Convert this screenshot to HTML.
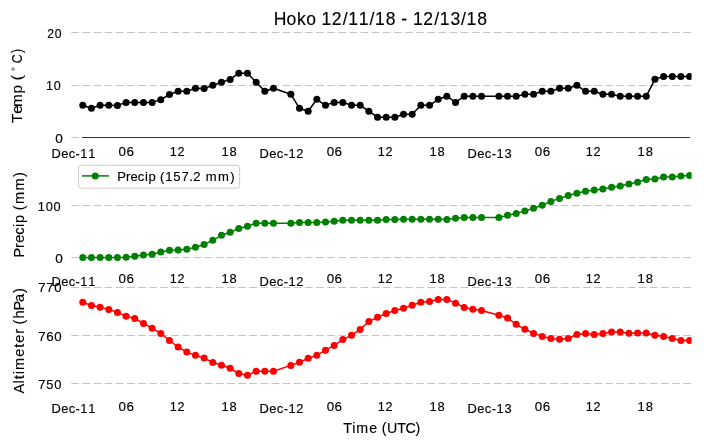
<!DOCTYPE html><html><head><meta charset="utf-8"><style>html,body{margin:0;padding:0;background:#fff;overflow:hidden}svg{display:block;will-change:transform}text{font-family:"Liberation Sans", sans-serif;fill:#000;stroke:#000;stroke-width:0.15px}</style></head><body>
<svg width="704" height="445" viewBox="0 0 704 445">
<rect width="704" height="445" fill="#fff"/>
<line x1="71.30" y1="32.50" x2="690.80" y2="32.50" stroke="#c4c4c4" stroke-width="1" stroke-dasharray="7.76 3.365"/>
<line x1="71.30" y1="85.50" x2="690.80" y2="85.50" stroke="#c4c4c4" stroke-width="1" stroke-dasharray="7.76 3.365"/>
<line x1="71.30" y1="137.50" x2="690.80" y2="137.50" stroke="#c4c4c4" stroke-width="1" stroke-dasharray="7.76 3.365"/>
<line x1="71.30" y1="205.50" x2="690.80" y2="205.50" stroke="#c4c4c4" stroke-width="1" stroke-dasharray="7.76 3.365"/>
<line x1="71.30" y1="257.50" x2="690.80" y2="257.50" stroke="#c4c4c4" stroke-width="1" stroke-dasharray="7.76 3.365"/>
<line x1="71.30" y1="287.50" x2="690.80" y2="287.50" stroke="#c4c4c4" stroke-width="1" stroke-dasharray="7.76 3.365"/>
<line x1="71.30" y1="335.50" x2="690.80" y2="335.50" stroke="#c4c4c4" stroke-width="1" stroke-dasharray="7.76 3.365"/>
<line x1="71.30" y1="383.50" x2="690.80" y2="383.50" stroke="#c4c4c4" stroke-width="1" stroke-dasharray="7.76 3.365"/>
<line x1="82.0" y1="137.5" x2="689.8" y2="137.5" stroke="#333" stroke-width="1.15"/>
<defs><clipPath id="cp"><rect x="71.3" y="0" width="620.3" height="445"/></clipPath></defs>
<polyline points="82.77,105.30 91.44,108.30 100.11,105.30 108.78,105.30 117.44,105.50 126.11,102.40 134.78,102.40 143.45,102.40 152.12,102.40 160.79,99.70 169.46,94.50 178.13,91.30 186.80,91.30 195.47,88.20 204.13,88.60 212.80,85.30 221.47,82.30 230.14,79.40 238.81,73.20 247.48,73.20 256.15,82.30 264.82,91.30 273.49,88.20 290.83,94.20 299.49,108.30 308.16,111.20 316.83,99.30 325.50,105.30 334.17,102.40 342.84,102.40 351.51,105.30 360.18,105.30 368.85,111.20 377.51,117.20 386.18,117.20 394.85,117.20 403.52,114.30 412.19,114.30 420.86,105.30 429.53,105.30 438.20,99.30 446.87,96.20 455.54,102.40 464.21,96.20 472.87,96.20 481.54,96.20 498.88,96.20 507.55,96.20 516.22,96.20 524.89,94.20 533.56,94.20 542.23,91.30 550.89,91.30 559.56,88.20 568.23,88.20 576.90,85.30 585.57,91.30 594.24,91.30 602.91,94.30 611.58,94.30 620.25,96.20 628.92,96.20 637.59,96.20 646.25,96.20 654.92,79.30 663.59,76.40 672.26,76.40 680.93,76.40 689.60,76.40" fill="none" stroke="#000" stroke-width="1.50" stroke-linejoin="round"/>
<g fill="#000" clip-path="url(#cp)">
<circle cx="82.77" cy="105.30" r="3.50"/>
<circle cx="91.44" cy="108.30" r="3.50"/>
<circle cx="100.11" cy="105.30" r="3.50"/>
<circle cx="108.78" cy="105.30" r="3.50"/>
<circle cx="117.44" cy="105.50" r="3.50"/>
<circle cx="126.11" cy="102.40" r="3.50"/>
<circle cx="134.78" cy="102.40" r="3.50"/>
<circle cx="143.45" cy="102.40" r="3.50"/>
<circle cx="152.12" cy="102.40" r="3.50"/>
<circle cx="160.79" cy="99.70" r="3.50"/>
<circle cx="169.46" cy="94.50" r="3.50"/>
<circle cx="178.13" cy="91.30" r="3.50"/>
<circle cx="186.80" cy="91.30" r="3.50"/>
<circle cx="195.47" cy="88.20" r="3.50"/>
<circle cx="204.13" cy="88.60" r="3.50"/>
<circle cx="212.80" cy="85.30" r="3.50"/>
<circle cx="221.47" cy="82.30" r="3.50"/>
<circle cx="230.14" cy="79.40" r="3.50"/>
<circle cx="238.81" cy="73.20" r="3.50"/>
<circle cx="247.48" cy="73.20" r="3.50"/>
<circle cx="256.15" cy="82.30" r="3.50"/>
<circle cx="264.82" cy="91.30" r="3.50"/>
<circle cx="273.49" cy="88.20" r="3.50"/>
<circle cx="290.83" cy="94.20" r="3.50"/>
<circle cx="299.49" cy="108.30" r="3.50"/>
<circle cx="308.16" cy="111.20" r="3.50"/>
<circle cx="316.83" cy="99.30" r="3.50"/>
<circle cx="325.50" cy="105.30" r="3.50"/>
<circle cx="334.17" cy="102.40" r="3.50"/>
<circle cx="342.84" cy="102.40" r="3.50"/>
<circle cx="351.51" cy="105.30" r="3.50"/>
<circle cx="360.18" cy="105.30" r="3.50"/>
<circle cx="368.85" cy="111.20" r="3.50"/>
<circle cx="377.51" cy="117.20" r="3.50"/>
<circle cx="386.18" cy="117.20" r="3.50"/>
<circle cx="394.85" cy="117.20" r="3.50"/>
<circle cx="403.52" cy="114.30" r="3.50"/>
<circle cx="412.19" cy="114.30" r="3.50"/>
<circle cx="420.86" cy="105.30" r="3.50"/>
<circle cx="429.53" cy="105.30" r="3.50"/>
<circle cx="438.20" cy="99.30" r="3.50"/>
<circle cx="446.87" cy="96.20" r="3.50"/>
<circle cx="455.54" cy="102.40" r="3.50"/>
<circle cx="464.21" cy="96.20" r="3.50"/>
<circle cx="472.87" cy="96.20" r="3.50"/>
<circle cx="481.54" cy="96.20" r="3.50"/>
<circle cx="498.88" cy="96.20" r="3.50"/>
<circle cx="507.55" cy="96.20" r="3.50"/>
<circle cx="516.22" cy="96.20" r="3.50"/>
<circle cx="524.89" cy="94.20" r="3.50"/>
<circle cx="533.56" cy="94.20" r="3.50"/>
<circle cx="542.23" cy="91.30" r="3.50"/>
<circle cx="550.89" cy="91.30" r="3.50"/>
<circle cx="559.56" cy="88.20" r="3.50"/>
<circle cx="568.23" cy="88.20" r="3.50"/>
<circle cx="576.90" cy="85.30" r="3.50"/>
<circle cx="585.57" cy="91.30" r="3.50"/>
<circle cx="594.24" cy="91.30" r="3.50"/>
<circle cx="602.91" cy="94.30" r="3.50"/>
<circle cx="611.58" cy="94.30" r="3.50"/>
<circle cx="620.25" cy="96.20" r="3.50"/>
<circle cx="628.92" cy="96.20" r="3.50"/>
<circle cx="637.59" cy="96.20" r="3.50"/>
<circle cx="646.25" cy="96.20" r="3.50"/>
<circle cx="654.92" cy="79.30" r="3.50"/>
<circle cx="663.59" cy="76.40" r="3.50"/>
<circle cx="672.26" cy="76.40" r="3.50"/>
<circle cx="680.93" cy="76.40" r="3.50"/>
<circle cx="689.60" cy="76.40" r="3.50"/>
</g>
<polyline points="82.77,257.40 91.44,257.40 100.11,257.40 108.78,257.40 117.44,257.40 126.11,257.30 134.78,256.30 143.45,255.00 152.12,254.20 160.79,252.00 169.46,250.30 178.13,250.10 186.80,249.30 195.47,247.30 204.13,244.50 212.80,240.30 221.47,235.30 230.14,232.30 238.81,228.40 247.48,226.30 256.15,223.20 264.82,223.20 273.49,223.20 290.83,223.20 299.49,222.40 308.16,222.40 316.83,222.40 325.50,222.00 334.17,221.20 342.84,220.30 351.51,220.30 360.18,220.30 368.85,220.30 377.51,220.30 386.18,219.50 394.85,219.50 403.52,219.20 412.19,219.30 420.86,219.30 429.53,219.30 438.20,219.30 446.87,219.40 455.54,218.20 464.21,217.40 472.87,217.40 481.54,217.40 498.88,217.40 507.55,215.30 516.22,213.40 524.89,211.10 533.56,208.20 542.23,205.30 550.89,201.40 559.56,198.40 568.23,195.50 576.90,193.20 585.57,191.20 594.24,190.10 602.91,189.10 611.58,187.20 620.25,186.10 628.92,184.10 637.59,182.30 646.25,179.40 654.92,179.10 663.59,177.00 672.26,177.00 680.93,175.90 689.60,175.40" fill="none" stroke="#008000" stroke-width="1.50" stroke-linejoin="round"/>
<g fill="#008000" clip-path="url(#cp)">
<circle cx="82.77" cy="257.40" r="3.50"/>
<circle cx="91.44" cy="257.40" r="3.50"/>
<circle cx="100.11" cy="257.40" r="3.50"/>
<circle cx="108.78" cy="257.40" r="3.50"/>
<circle cx="117.44" cy="257.40" r="3.50"/>
<circle cx="126.11" cy="257.30" r="3.50"/>
<circle cx="134.78" cy="256.30" r="3.50"/>
<circle cx="143.45" cy="255.00" r="3.50"/>
<circle cx="152.12" cy="254.20" r="3.50"/>
<circle cx="160.79" cy="252.00" r="3.50"/>
<circle cx="169.46" cy="250.30" r="3.50"/>
<circle cx="178.13" cy="250.10" r="3.50"/>
<circle cx="186.80" cy="249.30" r="3.50"/>
<circle cx="195.47" cy="247.30" r="3.50"/>
<circle cx="204.13" cy="244.50" r="3.50"/>
<circle cx="212.80" cy="240.30" r="3.50"/>
<circle cx="221.47" cy="235.30" r="3.50"/>
<circle cx="230.14" cy="232.30" r="3.50"/>
<circle cx="238.81" cy="228.40" r="3.50"/>
<circle cx="247.48" cy="226.30" r="3.50"/>
<circle cx="256.15" cy="223.20" r="3.50"/>
<circle cx="264.82" cy="223.20" r="3.50"/>
<circle cx="273.49" cy="223.20" r="3.50"/>
<circle cx="290.83" cy="223.20" r="3.50"/>
<circle cx="299.49" cy="222.40" r="3.50"/>
<circle cx="308.16" cy="222.40" r="3.50"/>
<circle cx="316.83" cy="222.40" r="3.50"/>
<circle cx="325.50" cy="222.00" r="3.50"/>
<circle cx="334.17" cy="221.20" r="3.50"/>
<circle cx="342.84" cy="220.30" r="3.50"/>
<circle cx="351.51" cy="220.30" r="3.50"/>
<circle cx="360.18" cy="220.30" r="3.50"/>
<circle cx="368.85" cy="220.30" r="3.50"/>
<circle cx="377.51" cy="220.30" r="3.50"/>
<circle cx="386.18" cy="219.50" r="3.50"/>
<circle cx="394.85" cy="219.50" r="3.50"/>
<circle cx="403.52" cy="219.20" r="3.50"/>
<circle cx="412.19" cy="219.30" r="3.50"/>
<circle cx="420.86" cy="219.30" r="3.50"/>
<circle cx="429.53" cy="219.30" r="3.50"/>
<circle cx="438.20" cy="219.30" r="3.50"/>
<circle cx="446.87" cy="219.40" r="3.50"/>
<circle cx="455.54" cy="218.20" r="3.50"/>
<circle cx="464.21" cy="217.40" r="3.50"/>
<circle cx="472.87" cy="217.40" r="3.50"/>
<circle cx="481.54" cy="217.40" r="3.50"/>
<circle cx="498.88" cy="217.40" r="3.50"/>
<circle cx="507.55" cy="215.30" r="3.50"/>
<circle cx="516.22" cy="213.40" r="3.50"/>
<circle cx="524.89" cy="211.10" r="3.50"/>
<circle cx="533.56" cy="208.20" r="3.50"/>
<circle cx="542.23" cy="205.30" r="3.50"/>
<circle cx="550.89" cy="201.40" r="3.50"/>
<circle cx="559.56" cy="198.40" r="3.50"/>
<circle cx="568.23" cy="195.50" r="3.50"/>
<circle cx="576.90" cy="193.20" r="3.50"/>
<circle cx="585.57" cy="191.20" r="3.50"/>
<circle cx="594.24" cy="190.10" r="3.50"/>
<circle cx="602.91" cy="189.10" r="3.50"/>
<circle cx="611.58" cy="187.20" r="3.50"/>
<circle cx="620.25" cy="186.10" r="3.50"/>
<circle cx="628.92" cy="184.10" r="3.50"/>
<circle cx="637.59" cy="182.30" r="3.50"/>
<circle cx="646.25" cy="179.40" r="3.50"/>
<circle cx="654.92" cy="179.10" r="3.50"/>
<circle cx="663.59" cy="177.00" r="3.50"/>
<circle cx="672.26" cy="177.00" r="3.50"/>
<circle cx="680.93" cy="175.90" r="3.50"/>
<circle cx="689.60" cy="175.40" r="3.50"/>
</g>
<polyline points="82.77,302.30 91.44,305.60 100.11,307.30 108.78,309.50 117.44,312.40 126.11,316.30 134.78,318.40 143.45,323.50 152.12,328.20 160.79,333.40 169.46,340.50 178.13,347.00 186.80,352.10 195.47,355.20 204.13,358.10 212.80,362.40 221.47,365.30 230.14,368.30 238.81,373.50 247.48,375.20 256.15,371.20 264.82,371.20 273.49,371.20 290.83,365.40 299.49,362.20 308.16,358.30 316.83,355.30 325.50,350.20 334.17,345.40 342.84,339.60 351.51,335.30 360.18,329.40 368.85,321.50 377.51,317.30 386.18,313.50 394.85,310.50 403.52,308.20 412.19,305.30 420.86,302.30 429.53,301.40 438.20,299.40 446.87,299.40 455.54,303.30 464.21,307.40 472.87,309.30 481.54,310.50 498.88,315.20 507.55,318.10 516.22,324.30 524.89,329.30 533.56,333.40 542.23,336.40 550.89,338.50 559.56,339.30 568.23,338.50 576.90,334.40 585.57,333.40 594.24,334.50 602.91,333.50 611.58,332.10 620.25,332.10 628.92,333.20 637.59,333.10 646.25,333.10 654.92,335.20 663.59,336.40 672.26,338.50 680.93,340.40 689.60,340.40" fill="none" stroke="#ff0000" stroke-width="1.50" stroke-linejoin="round"/>
<g fill="#ff0000" clip-path="url(#cp)">
<circle cx="82.77" cy="302.30" r="3.50"/>
<circle cx="91.44" cy="305.60" r="3.50"/>
<circle cx="100.11" cy="307.30" r="3.50"/>
<circle cx="108.78" cy="309.50" r="3.50"/>
<circle cx="117.44" cy="312.40" r="3.50"/>
<circle cx="126.11" cy="316.30" r="3.50"/>
<circle cx="134.78" cy="318.40" r="3.50"/>
<circle cx="143.45" cy="323.50" r="3.50"/>
<circle cx="152.12" cy="328.20" r="3.50"/>
<circle cx="160.79" cy="333.40" r="3.50"/>
<circle cx="169.46" cy="340.50" r="3.50"/>
<circle cx="178.13" cy="347.00" r="3.50"/>
<circle cx="186.80" cy="352.10" r="3.50"/>
<circle cx="195.47" cy="355.20" r="3.50"/>
<circle cx="204.13" cy="358.10" r="3.50"/>
<circle cx="212.80" cy="362.40" r="3.50"/>
<circle cx="221.47" cy="365.30" r="3.50"/>
<circle cx="230.14" cy="368.30" r="3.50"/>
<circle cx="238.81" cy="373.50" r="3.50"/>
<circle cx="247.48" cy="375.20" r="3.50"/>
<circle cx="256.15" cy="371.20" r="3.50"/>
<circle cx="264.82" cy="371.20" r="3.50"/>
<circle cx="273.49" cy="371.20" r="3.50"/>
<circle cx="290.83" cy="365.40" r="3.50"/>
<circle cx="299.49" cy="362.20" r="3.50"/>
<circle cx="308.16" cy="358.30" r="3.50"/>
<circle cx="316.83" cy="355.30" r="3.50"/>
<circle cx="325.50" cy="350.20" r="3.50"/>
<circle cx="334.17" cy="345.40" r="3.50"/>
<circle cx="342.84" cy="339.60" r="3.50"/>
<circle cx="351.51" cy="335.30" r="3.50"/>
<circle cx="360.18" cy="329.40" r="3.50"/>
<circle cx="368.85" cy="321.50" r="3.50"/>
<circle cx="377.51" cy="317.30" r="3.50"/>
<circle cx="386.18" cy="313.50" r="3.50"/>
<circle cx="394.85" cy="310.50" r="3.50"/>
<circle cx="403.52" cy="308.20" r="3.50"/>
<circle cx="412.19" cy="305.30" r="3.50"/>
<circle cx="420.86" cy="302.30" r="3.50"/>
<circle cx="429.53" cy="301.40" r="3.50"/>
<circle cx="438.20" cy="299.40" r="3.50"/>
<circle cx="446.87" cy="299.40" r="3.50"/>
<circle cx="455.54" cy="303.30" r="3.50"/>
<circle cx="464.21" cy="307.40" r="3.50"/>
<circle cx="472.87" cy="309.30" r="3.50"/>
<circle cx="481.54" cy="310.50" r="3.50"/>
<circle cx="498.88" cy="315.20" r="3.50"/>
<circle cx="507.55" cy="318.10" r="3.50"/>
<circle cx="516.22" cy="324.30" r="3.50"/>
<circle cx="524.89" cy="329.30" r="3.50"/>
<circle cx="533.56" cy="333.40" r="3.50"/>
<circle cx="542.23" cy="336.40" r="3.50"/>
<circle cx="550.89" cy="338.50" r="3.50"/>
<circle cx="559.56" cy="339.30" r="3.50"/>
<circle cx="568.23" cy="338.50" r="3.50"/>
<circle cx="576.90" cy="334.40" r="3.50"/>
<circle cx="585.57" cy="333.40" r="3.50"/>
<circle cx="594.24" cy="334.50" r="3.50"/>
<circle cx="602.91" cy="333.50" r="3.50"/>
<circle cx="611.58" cy="332.10" r="3.50"/>
<circle cx="620.25" cy="332.10" r="3.50"/>
<circle cx="628.92" cy="333.20" r="3.50"/>
<circle cx="637.59" cy="333.10" r="3.50"/>
<circle cx="646.25" cy="333.10" r="3.50"/>
<circle cx="654.92" cy="335.20" r="3.50"/>
<circle cx="663.59" cy="336.40" r="3.50"/>
<circle cx="672.26" cy="338.50" r="3.50"/>
<circle cx="680.93" cy="340.40" r="3.50"/>
<circle cx="689.60" cy="340.40" r="3.50"/>
</g>
<text transform="translate(0,37.90) scale(0.9171,1)" x="51.40 59.72" y="0" font-size="13.25">20</text>
<text transform="translate(0,89.90) scale(0.9449,1)" x="48.56 56.79" y="0" font-size="13.25">10</text>
<text transform="translate(0,142.90) scale(1.0263,1)" x="53.85" y="0" font-size="13.25">0</text>
<text transform="translate(0,210.90) scale(0.9647,1)" x="39.23 47.40 55.51" y="0" font-size="13.25">100</text>
<text transform="translate(0,262.90) scale(1.0263,1)" x="53.85" y="0" font-size="13.25">0</text>
<text transform="translate(0,291.90) scale(0.9887,1)" x="38.64 46.76 54.90" y="0" font-size="13.25">770</text>
<text transform="translate(0,340.90) scale(1.0032,1)" x="38.12 46.11 54.07" y="0" font-size="13.25">760</text>
<text transform="translate(0,388.90) scale(0.9730,1)" x="39.42 47.60 55.86" y="0" font-size="13.25">750</text>
<text transform="translate(0,157.80) scale(0.9735,1)" x="52.91 62.91 70.58 77.69 82.54 90.71" y="0" font-size="13.25">Dec-11</text>
<text transform="translate(0,155.80) scale(1.0115,1)" x="117.24 125.10" y="0" font-size="13.25">06</text>
<text transform="translate(0,155.80) scale(0.9538,1)" x="177.87 186.09" y="0" font-size="13.25">12</text>
<text transform="translate(0,155.80) scale(0.9777,1)" x="226.57 234.77" y="0" font-size="13.25">18</text>
<text transform="translate(0,157.80) scale(0.9746,1)" x="266.32 276.30 283.97 291.07 295.92 303.97" y="0" font-size="13.25">Dec-12</text>
<text transform="translate(0,155.80) scale(1.0115,1)" x="322.93 330.79" y="0" font-size="13.25">06</text>
<text transform="translate(0,155.80) scale(0.9538,1)" x="396.00 404.22" y="0" font-size="13.25">12</text>
<text transform="translate(0,155.80) scale(0.9777,1)" x="439.37 447.56" y="0" font-size="13.25">18</text>
<text transform="translate(0,157.80) scale(0.9740,1)" x="480.08 490.07 497.74 504.84 509.69 517.94" y="0" font-size="13.25">Dec-13</text>
<text transform="translate(0,155.80) scale(1.0115,1)" x="528.62 536.48" y="0" font-size="13.25">06</text>
<text transform="translate(0,155.80) scale(0.9538,1)" x="614.13 622.35" y="0" font-size="13.25">12</text>
<text transform="translate(0,155.80) scale(0.9777,1)" x="652.16 660.36" y="0" font-size="13.25">18</text>
<text transform="translate(0,285.50) scale(0.9735,1)" x="52.91 62.91 70.58 77.69 82.54 90.71" y="0" font-size="13.25">Dec-11</text>
<text transform="translate(0,282.90) scale(1.0115,1)" x="117.24 125.10" y="0" font-size="13.25">06</text>
<text transform="translate(0,282.90) scale(0.9538,1)" x="177.87 186.09" y="0" font-size="13.25">12</text>
<text transform="translate(0,282.90) scale(0.9777,1)" x="226.57 234.77" y="0" font-size="13.25">18</text>
<text transform="translate(0,285.50) scale(0.9746,1)" x="266.32 276.30 283.97 291.07 295.92 303.97" y="0" font-size="13.25">Dec-12</text>
<text transform="translate(0,282.90) scale(1.0115,1)" x="322.93 330.79" y="0" font-size="13.25">06</text>
<text transform="translate(0,282.90) scale(0.9538,1)" x="396.00 404.22" y="0" font-size="13.25">12</text>
<text transform="translate(0,282.90) scale(0.9777,1)" x="439.37 447.56" y="0" font-size="13.25">18</text>
<text transform="translate(0,285.50) scale(0.9740,1)" x="480.08 490.07 497.74 504.84 509.69 517.94" y="0" font-size="13.25">Dec-13</text>
<text transform="translate(0,282.90) scale(1.0115,1)" x="528.62 536.48" y="0" font-size="13.25">06</text>
<text transform="translate(0,282.90) scale(0.9538,1)" x="614.13 622.35" y="0" font-size="13.25">12</text>
<text transform="translate(0,282.90) scale(0.9777,1)" x="652.16 660.36" y="0" font-size="13.25">18</text>
<text transform="translate(0,412.90) scale(0.9735,1)" x="52.91 62.91 70.58 77.69 82.54 90.71" y="0" font-size="13.25">Dec-11</text>
<text transform="translate(0,410.90) scale(1.0115,1)" x="117.24 125.10" y="0" font-size="13.25">06</text>
<text transform="translate(0,410.90) scale(0.9538,1)" x="177.87 186.09" y="0" font-size="13.25">12</text>
<text transform="translate(0,410.90) scale(0.9777,1)" x="226.57 234.77" y="0" font-size="13.25">18</text>
<text transform="translate(0,412.90) scale(0.9746,1)" x="266.32 276.30 283.97 291.07 295.92 303.97" y="0" font-size="13.25">Dec-12</text>
<text transform="translate(0,410.90) scale(1.0115,1)" x="322.93 330.79" y="0" font-size="13.25">06</text>
<text transform="translate(0,410.90) scale(0.9538,1)" x="396.00 404.22" y="0" font-size="13.25">12</text>
<text transform="translate(0,410.90) scale(0.9777,1)" x="439.37 447.56" y="0" font-size="13.25">18</text>
<text transform="translate(0,412.90) scale(0.9740,1)" x="480.08 490.07 497.74 504.84 509.69 517.94" y="0" font-size="13.25">Dec-13</text>
<text transform="translate(0,410.90) scale(1.0115,1)" x="528.62 536.48" y="0" font-size="13.25">06</text>
<text transform="translate(0,410.90) scale(0.9538,1)" x="614.13 622.35" y="0" font-size="13.25">12</text>
<text transform="translate(0,410.90) scale(0.9777,1)" x="652.16 660.36" y="0" font-size="13.25">18</text>
<text transform="translate(0,25.10) scale(0.9941,1)" x="275.31 288.22 298.84 308.19 311.19 323.30 333.83 344.68 350.29 360.96 371.67 377.29 388.04 391.04 403.71 406.71 415.34 425.87 436.72 442.33 453.11 463.71 469.32 480.08" y="0" font-size="17.67">Hoko 12/11/18 - 12/13/18</text>
<text transform="translate(0,432.80) scale(0.9662,1)" x="355.27 364.51 368.60 382.05 385.05 395.09 400.66 411.13 419.63 429.92" y="0" font-size="14.72">Time (UTC)</text>
<text transform="translate(23.90,0) rotate(-90) scale(0.9882,1)" x="-260.47 -250.85 -245.78 -237.69 -229.66 -225.62 -222.62 -212.78 -206.46 -192.78 -179.19" y="0" font-size="14.72">Precip (mm)</text>
<text transform="translate(23.70,0) rotate(-90) scale(0.9937,1)" x="-396.04 -386.01 -381.77 -376.62 -372.30 -359.13 -350.08 -345.00 -335.91 -332.91 -326.48 -320.56 -312.48 -303.90 -294.96" y="0" font-size="14.72">Altimeter (hPa)</text>
<text transform="translate(21.90,0) rotate(-90) scale(1.0386,1)" x="-118.40 -109.58 -103.05 -89.94 -86.94 -77.38" y="0" font-size="14.72">Temp (</text>
<text transform="translate(21.90,0) rotate(-90) scale(0.8437,1)" x="-75.05 -62.89" y="0" font-size="14.72">C)</text>
<circle cx="13.1" cy="69.1" r="1.25" fill="none" stroke="#555" stroke-width="0.9"/>
<rect x="78.6" y="165.3" width="161" height="22.9" rx="2.5" ry="2.5" fill="#fff" fill-opacity="0.8" stroke="#cccccc" stroke-width="1"/>
<line x1="82.0" y1="175.9" x2="108.9" y2="175.9" stroke="#008000" stroke-width="1.50"/>
<circle cx="95.3" cy="175.9" r="3.50" fill="#008000"/>
<text transform="translate(0,181.00) scale(0.9868,1)" x="118.88 127.61 132.23 139.58 146.86 150.55 153.55 162.21 167.56 175.69 183.84 191.80 195.88 198.88 208.59 221.03 233.35" y="0" font-size="13.25">Precip (157.2 mm)</text>
</svg></body></html>
